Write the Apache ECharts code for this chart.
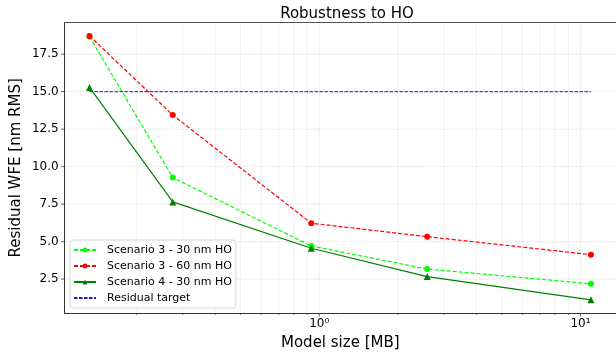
<!DOCTYPE html>
<html><head><meta charset="utf-8">
<script src="https://cdn.jsdelivr.net/npm/echarts@6/dist/echarts.min.js"></script>
<style>html,body{margin:0;padding:0;background:#fff}#c{width:616px;height:358px}</style>
</head><body><div id="c"></div>
<script>
// ---- data ----
const modelSize = [0.132, 0.275, 0.932, 2.59, 10.97];
const scen3_30 = [18.67, 9.27, 4.71, 3.17, 2.19];
const scen3_60 = [18.72, 13.44, 6.23, 5.33, 4.13];
const scen4_30 = [15.28, 7.65, 4.56, 2.67, 1.12];
const targetValue = 15;
const seriesNames = ['Scenario 3 - 30 nm HO', 'Scenario 3 - 60 nm HO', 'Scenario 4 - 30 nm HO', 'Residual target'];
const yTicks = [2.5, 5.0, 7.5, 10.0, 12.5, 15.0, 17.5];
const xMajorTicks = [1, 10];
const xMajorLabels = ['10\u2070', '10\u00b9'];
const xMinorTicks = [0.2, 0.3, 0.4, 0.5, 0.6, 0.7, 0.8, 0.9, 2, 3, 4, 5, 6, 7, 8, 9];

// ---- axis extents ----
const X_MIN = 0.106, X_MAX = 13.68, Y_MIN = 0.24, Y_MAX = 19.6;
const FONT = '"DejaVu Sans", sans-serif';
const SPINE = '#333';
const GRIDC = '#e8e8e8';
const TARGET_C = '#1a1ac0';

const chart = echarts.init(document.getElementById('c'), null, {renderer: 'canvas'});

function pairs(xs, ys) { return xs.map((x, i) => [x, ys[i]]); }

const yTickSeries = {
  type: 'custom', silent: true, clip: false, z: 0,
  data: yTicks.map(v => [1, v]),
  renderItem: (params, api) => {
    const v = api.value(1);
    const p0 = api.coord([X_MIN, v]);
    const p1 = api.coord([X_MAX, v]);
    return {type: 'group', children: [
      {type: 'line', shape: {x1: p0[0], y1: p0[1], x2: p1[0], y2: p1[1]}, style: {stroke: GRIDC, lineWidth: 0.8}},
      {type: 'line', shape: {x1: p0[0] - 3.5, y1: p0[1], x2: p0[0], y2: p0[1]}, style: {stroke: SPINE, lineWidth: 0.8}},
      {type: 'text', x: p0[0] - 6, y: p0[1], style: {text: v.toFixed(1), align: 'right', verticalAlign: 'middle', fontSize: 12, fontFamily: FONT, fill: '#000'}}
    ]};
  }
};

const xMajorSeries = {
  type: 'custom', silent: true, clip: false, z: 0,
  data: xMajorTicks.map((v, i) => [v, 5, i]),
  renderItem: (params, api) => {
    const v = api.value(0);
    const i = api.value(2);
    const p0 = api.coord([v, Y_MIN]);
    const p1 = api.coord([v, Y_MAX]);
    return {type: 'group', children: [
      {type: 'line', shape: {x1: p0[0], y1: p0[1], x2: p1[0], y2: p1[1]}, style: {stroke: GRIDC, lineWidth: 0.8}},
      {type: 'line', shape: {x1: p0[0], y1: p0[1], x2: p0[0], y2: p0[1] + 3.5}, style: {stroke: SPINE, lineWidth: 0.8}},
      {type: 'text', x: p0[0], y: p0[1] + 5, style: {text: xMajorLabels[i], align: 'center', verticalAlign: 'top', fontSize: 12, fontFamily: FONT, fill: '#000'}}
    ]};
  }
};

const xMinorSeries = {
  type: 'custom', silent: true, clip: false, z: 0,
  data: xMinorTicks.map(v => [v, 5]),
  renderItem: (params, api) => {
    const v = api.value(0);
    const p0 = api.coord([v, Y_MIN]);
    const p1 = api.coord([v, Y_MAX]);
    return {type: 'group', children: [
      {type: 'line', shape: {x1: p0[0], y1: p0[1], x2: p1[0], y2: p1[1]}, style: {stroke: '#efefef', lineWidth: 0.8}},
      {type: 'line', shape: {x1: p0[0], y1: p0[1], x2: p0[0], y2: p0[1] + 2}, style: {stroke: SPINE, lineWidth: 0.6}}
    ]};
  }
};

const option = {
  animation: false,
  backgroundColor: '#fff',
  title: {
    text: 'Robustness to HO', left: 342, top: 2, textAlign: 'center',
    textStyle: {fontSize: 15, fontWeight: 'normal', fontFamily: FONT, color: '#000'}
  },
  grid: {left: 64.6, right: -3, top: 22.7, bottom: 45, containLabel: false},
  xAxis: [{
    type: 'log', logBase: 10, min: X_MIN, max: X_MAX,
    axisLine: {show: true, lineStyle: {color: SPINE, width: 1}},
    axisTick: {show: false}, axisLabel: {show: false}, splitLine: {show: false}, minorTick: {show: false},
    name: 'Model size [MB]', nameLocation: 'middle', nameGap: 23,
    nameTextStyle: {fontSize: 15, fontFamily: FONT, color: '#000'}
  }, {
    type: 'log', logBase: 10, min: X_MIN, max: X_MAX, position: 'top',
    axisLine: {show: true, lineStyle: {color: '#555', width: 1}},
    axisTick: {show: false}, axisLabel: {show: false}, splitLine: {show: false}
  }],
  yAxis: {
    type: 'value', min: Y_MIN, max: Y_MAX,
    axisLine: {show: true, lineStyle: {color: SPINE, width: 1}},
    axisTick: {show: false}, axisLabel: {show: false}, splitLine: {show: false},
    name: 'Residual WFE [nm RMS]', nameLocation: 'middle', nameGap: 41,
    nameTextStyle: {fontSize: 15, fontFamily: FONT, color: '#000'}
  },
  legend: {
    orient: 'vertical', left: 70, top: 240, padding: [3, 4, 3, 3], itemGap: 2,
    itemWidth: 22, itemHeight: 6,
    backgroundColor: 'rgba(255,255,255,0.85)', borderColor: '#d6d6d6', borderWidth: 1, borderRadius: 3,
    textStyle: {fontSize: 11, fontFamily: FONT, color: '#000', lineHeight: 14, padding: [0, 0, 0, 6]},
    data: [
      {name: seriesNames[0]},
      {name: seriesNames[1]},
      {name: seriesNames[2]},
      {name: seriesNames[3], itemStyle: {opacity: 0}}
    ]
  },
  series: [
    xMinorSeries, xMajorSeries, yTickSeries,
    {
      name: seriesNames[0], type: 'line', data: pairs(modelSize, scen3_30),
      color: '#00ff00', symbol: 'circle', symbolSize: 6, z: 3,
      lineStyle: {color: '#00ff00', width: 1.2, type: [4, 2]}, itemStyle: {color: '#00ff00'}
    },
    {
      name: seriesNames[1], type: 'line', data: pairs(modelSize, scen3_60),
      color: '#ff0000', symbol: 'circle', symbolSize: 6, z: 3,
      lineStyle: {color: '#ff0000', width: 1.2, type: [4, 2]}, itemStyle: {color: '#ff0000'}
    },
    {
      name: seriesNames[2], type: 'line', data: pairs(modelSize, scen4_30),
      color: '#008000', symbol: 'triangle', symbolSize: 7, z: 3,
      lineStyle: {color: '#008000', width: 1.2, type: 'solid'}, itemStyle: {color: '#008000'}
    },
    {
      name: seriesNames[3], type: 'line',
      data: [[modelSize[0], targetValue], [modelSize[modelSize.length - 1], targetValue]],
      color: TARGET_C, symbol: 'none', z: 4,
      lineStyle: {color: TARGET_C, width: 1, type: [3.5, 1.5]}, itemStyle: {color: TARGET_C}
    }
  ]
};
chart.setOption(option);
</script>
</body></html>
